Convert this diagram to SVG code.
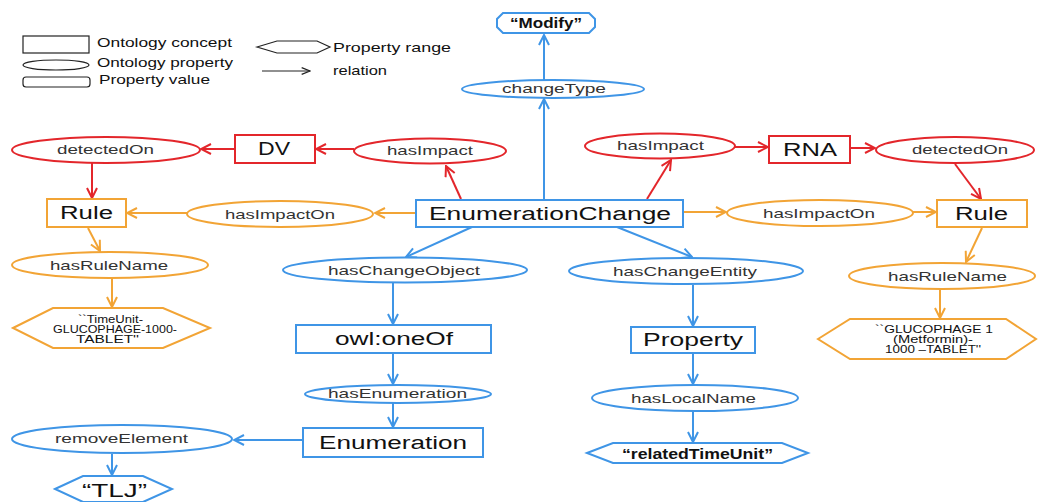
<svg xmlns="http://www.w3.org/2000/svg" width="1038" height="502" viewBox="0 0 1038 502">
<defs>
<style>
text{font-family:"Liberation Sans",Arial,sans-serif;fill:#111}
.lg{font-size:13px}
.pl{font-size:13px;fill:#333}
.cl{font-size:18px}
.hx{font-size:10.5px}
.bv{font-size:15px;font-weight:bold}
.b{stroke:#3f95e6;fill:#fff;stroke-width:2}
.r{stroke:#e3262b;fill:#fff;stroke-width:2}
.o{stroke:#f2a435;fill:#fff;stroke-width:2}
.k{stroke:#222;fill:#fff;stroke-width:1.2}
.eb{stroke:#3f95e6;stroke-width:2;fill:none;marker-end:url(#mb)}
.er{stroke:#e3262b;stroke-width:2;fill:none;marker-end:url(#mr)}
.eo{stroke:#f2a435;stroke-width:2;fill:none;marker-end:url(#mo)}
.ek{stroke:#222;stroke-width:1.2;fill:none;marker-end:url(#mk)}
</style>
<marker id="mb" viewBox="0 0 12 12" refX="11" refY="6" markerWidth="12" markerHeight="12" markerUnits="userSpaceOnUse" orient="auto"><path d="M1,1 L11,6 L1,11" fill="none" stroke="#3f95e6" stroke-width="2"/></marker>
<marker id="mr" viewBox="0 0 12 12" refX="11" refY="6" markerWidth="12" markerHeight="12" markerUnits="userSpaceOnUse" orient="auto"><path d="M1,1 L11,6 L1,11" fill="none" stroke="#e3262b" stroke-width="2"/></marker>
<marker id="mo" viewBox="0 0 12 12" refX="11" refY="6" markerWidth="12" markerHeight="12" markerUnits="userSpaceOnUse" orient="auto"><path d="M1,1 L11,6 L1,11" fill="none" stroke="#f2a435" stroke-width="2"/></marker>
<marker id="mk" viewBox="0 0 12 12" refX="11" refY="6" markerWidth="10" markerHeight="10" markerUnits="userSpaceOnUse" orient="auto"><path d="M1,2 L11,6 L1,10" fill="none" stroke="#222" stroke-width="1.5"/></marker>
</defs>
<rect width="1038" height="502" fill="#fff"/>

<g id="legend">
<rect class="k" x="23" y="36" width="66" height="17"/>
<text class="lg" x="97" y="47" textLength="135" lengthAdjust="spacingAndGlyphs">Ontology concept</text>
<ellipse class="k" cx="56" cy="65" rx="33" ry="5"/>
<text class="lg" x="97" y="67" textLength="136" lengthAdjust="spacingAndGlyphs">Ontology property</text>
<rect class="k" x="23" y="77" width="67" height="10" rx="3"/>
<text class="lg" x="99" y="84" textLength="111" lengthAdjust="spacingAndGlyphs">Property value</text>
<polygon class="k" points="257,47 277,41 317,41 330,47 317,53 277,53"/>
<text class="lg" x="333" y="52" textLength="118" lengthAdjust="spacingAndGlyphs">Property range</text>
<path class="ek" d="M262,71 L310,71"/>
<text class="lg" x="333" y="75" textLength="54" lengthAdjust="spacingAndGlyphs">relation</text>
</g>

<g id="connectors">
<path class="eb" d="M544,200 L544,99"/>
<path class="eb" d="M544,80 L544,35"/>
<path class="er" d="M461,199 L446,166"/>
<path class="er" d="M354,149 L316,149"/>
<path class="er" d="M235,149 L201,149"/>
<path class="er" d="M92,163 L92,198"/>
<path class="eo" d="M416,213 L375,213"/>
<path class="eo" d="M187,213 L127,213"/>
<path class="eo" d="M88,228 L100,251"/>
<path class="eo" d="M112,278 L112,307"/>
<path class="er" d="M647,199 L671,160"/>
<path class="er" d="M735,147 L768,147"/>
<path class="er" d="M850,148 L875,148"/>
<path class="er" d="M955,164 L981,199"/>
<path class="eo" d="M683,212 L726,212"/>
<path class="eo" d="M913,212 L936,212"/>
<path class="eo" d="M982,228 L966,262"/>
<path class="eo" d="M940,290 L940,318"/>
<path class="eb" d="M472,227 L406,257"/>
<path class="eb" d="M393,283 L393,324"/>
<path class="eb" d="M393,353 L393,384"/>
<path class="eb" d="M393,403 L393,427"/>
<path class="eb" d="M302,440 L234,440"/>
<path class="eb" d="M112,454 L112,475"/>
<path class="eb" d="M617,227 L692,257"/>
<path class="eb" d="M693,285 L693,326"/>
<path class="eb" d="M693,353 L693,384"/>
<path class="eb" d="M693,412 L693,442"/>
</g>

<g id="modify">
<polygon class="b" points="503,13 589,13 595,19 595,27 589,33 503,33 497,27 497,19"/>
<text class="bv" x="510" y="28" textLength="72" lengthAdjust="spacingAndGlyphs">“Modify”</text>
</g>
<g id="changeType">
<ellipse class="b" cx="553" cy="89" rx="91" ry="9"/>
<text class="pl" x="502" y="93" textLength="104" lengthAdjust="spacingAndGlyphs">changeType</text>
</g>
<g id="enumerationChange">
<rect class="b" x="416" y="200" width="267" height="27"/>
<text class="cl" x="429" y="220" textLength="242" lengthAdjust="spacingAndGlyphs">EnumerationChange</text>
</g>

<g id="hasImpactL">
<ellipse class="r" cx="430" cy="151" rx="76" ry="12.5"/>
<text class="pl" x="387" y="155" textLength="86" lengthAdjust="spacingAndGlyphs">hasImpact</text>
</g>
<g id="dv">
<rect class="r" x="235" y="135" width="80" height="28"/>
<text class="cl" x="258" y="155" textLength="32" lengthAdjust="spacingAndGlyphs">DV</text>
</g>
<g id="detectedOnL">
<ellipse class="r" cx="106" cy="150" rx="94" ry="13"/>
<text class="pl" x="57" y="154" textLength="97" lengthAdjust="spacingAndGlyphs">detectedOn</text>
</g>
<g id="ruleL">
<rect class="o" x="47" y="199" width="79" height="28"/>
<text class="cl" x="60" y="219" textLength="53" lengthAdjust="spacingAndGlyphs">Rule</text>
</g>
<g id="hasImpactOnL">
<ellipse class="o" cx="280" cy="214" rx="93" ry="13"/>
<text class="pl" x="225" y="219" textLength="110" lengthAdjust="spacingAndGlyphs">hasImpactOn</text>
</g>
<g id="hasRuleNameL">
<ellipse class="o" cx="110" cy="265" rx="98" ry="13"/>
<text class="pl" x="50" y="270" textLength="118" lengthAdjust="spacingAndGlyphs">hasRuleName</text>
</g>
<g id="ruleNameL">
<polygon class="o" points="13,328 53,308 163,308 210,328 163,348 53,348"/>
<text class="hx" x="78" y="323" textLength="65" lengthAdjust="spacingAndGlyphs">``TimeUnit-</text>
<text class="hx" x="53" y="333" textLength="124" lengthAdjust="spacingAndGlyphs">GLUCOPHAGE-1000-</text>
<text class="hx" x="76" y="343" textLength="63" lengthAdjust="spacingAndGlyphs">TABLET''</text>
</g>

<g id="hasImpactR">
<ellipse class="r" cx="660" cy="146" rx="75" ry="12.5"/>
<text class="pl" x="617" y="150" textLength="87" lengthAdjust="spacingAndGlyphs">hasImpact</text>
</g>
<g id="rna">
<rect class="r" x="769" y="136" width="81" height="27"/>
<text class="cl" x="783" y="156" textLength="54" lengthAdjust="spacingAndGlyphs">RNA</text>
</g>
<g id="detectedOnR">
<ellipse class="r" cx="955" cy="150" rx="79" ry="13"/>
<text class="pl" x="912" y="154" textLength="96" lengthAdjust="spacingAndGlyphs">detectedOn</text>
</g>
<g id="ruleR">
<rect class="o" x="937" y="200" width="90" height="27"/>
<text class="cl" x="955" y="220" textLength="53" lengthAdjust="spacingAndGlyphs">Rule</text>
</g>
<g id="hasImpactOnR">
<ellipse class="o" cx="820" cy="213" rx="93" ry="13"/>
<text class="pl" x="763" y="218" textLength="112" lengthAdjust="spacingAndGlyphs">hasImpactOn</text>
</g>
<g id="hasRuleNameR">
<ellipse class="o" cx="942" cy="276" rx="93" ry="13"/>
<text class="pl" x="888" y="281" textLength="119" lengthAdjust="spacingAndGlyphs">hasRuleName</text>
</g>
<g id="ruleNameR">
<polygon class="o" points="818,339 850,319 1006,319 1036,339 1006,359 850,359"/>
<text class="hx" x="875" y="333" textLength="118" lengthAdjust="spacingAndGlyphs">``GLUCOPHAGE 1</text>
<text class="hx" x="893" y="343" textLength="80" lengthAdjust="spacingAndGlyphs">(Metformin)-</text>
<text class="hx" x="885" y="353" textLength="96" lengthAdjust="spacingAndGlyphs">1000 –TABLET''</text>
</g>

<g id="hasChangeObject">
<ellipse class="b" cx="405" cy="270" rx="122" ry="12.5"/>
<text class="pl" x="328" y="275" textLength="152" lengthAdjust="spacingAndGlyphs">hasChangeObject</text>
</g>
<g id="owlOneOf">
<rect class="b" x="296" y="325" width="195" height="28"/>
<text class="cl" x="335" y="345" textLength="118" lengthAdjust="spacingAndGlyphs">owl:oneOf</text>
</g>
<g id="hasEnumeration">
<ellipse class="b" cx="398" cy="394" rx="93" ry="9"/>
<text class="pl" x="328" y="398" textLength="139" lengthAdjust="spacingAndGlyphs">hasEnumeration</text>
</g>
<g id="enumeration">
<rect class="b" x="303" y="428" width="180" height="29"/>
<text class="cl" x="319" y="449" textLength="148" lengthAdjust="spacingAndGlyphs">Enumeration</text>
</g>
<g id="removeElement">
<ellipse class="b" cx="122" cy="439" rx="110" ry="14"/>
<text class="pl" x="55" y="443" textLength="133" lengthAdjust="spacingAndGlyphs">removeElement</text>
</g>
<g id="tlj">
<polygon class="b" points="55,489 83,476 143,476 172,489 143,502 83,502"/>
<text x="82" y="497" font-size="18" textLength="65" lengthAdjust="spacingAndGlyphs">“TLJ”</text>
</g>

<g id="hasChangeEntity">
<ellipse class="b" cx="686" cy="271" rx="117" ry="13"/>
<text class="pl" x="613" y="276" textLength="144" lengthAdjust="spacingAndGlyphs">hasChangeEntity</text>
</g>
<g id="property">
<rect class="b" x="631" y="327" width="124" height="26"/>
<text class="cl" x="643" y="346" textLength="100" lengthAdjust="spacingAndGlyphs">Property</text>
</g>
<g id="hasLocalName">
<ellipse class="b" cx="695" cy="398" rx="103" ry="13"/>
<text class="pl" x="631" y="403" textLength="125" lengthAdjust="spacingAndGlyphs">hasLocalName</text>
</g>
<g id="relatedTimeUnit">
<polygon class="b" points="587,453 613,443 782,443 808,453 782,463 613,463"/>
<text class="bv" x="622" y="459" textLength="151" lengthAdjust="spacingAndGlyphs">“relatedTimeUnit”</text>
</g>
</svg>
